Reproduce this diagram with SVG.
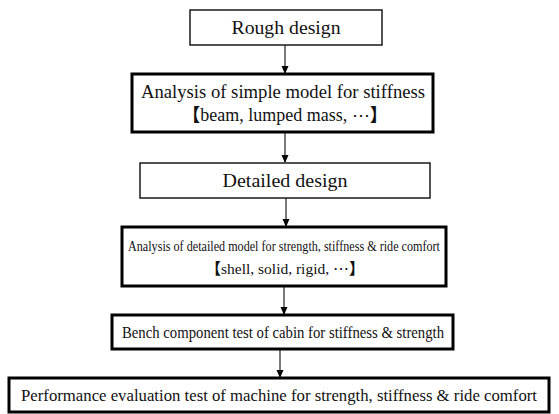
<svg xmlns="http://www.w3.org/2000/svg" width="559" height="414" viewBox="0 0 559 414">
<defs>
<marker id="arr" markerWidth="8" markerHeight="8" refX="7" refY="4" orient="auto" markerUnits="userSpaceOnUse">
<path d="M0,0.5 L8,4 L0,7.5 Z" fill="#000"/>
</marker>
<style>
.thin{fill:#fff;stroke:#1a1a1a;stroke-width:1.5}
.thick{fill:#fff;stroke:#000;stroke-width:3}
.t{fill:#111;text-anchor:middle}
.cjk{font-weight:bold}
.c{stroke:#222;stroke-width:1.2;fill:none;marker-end:url(#arr)}
</style>
</defs>
<rect width="559" height="414" fill="#fff"/>
<g id="connectors">
<line class="c" x1="285" y1="45" x2="285" y2="73"/>
<line class="c" x1="285" y1="132" x2="285" y2="162"/>
<line class="c" x1="286" y1="198" x2="286" y2="226"/>
<line class="c" x1="284" y1="286" x2="284" y2="314"/>
<line class="c" x1="280" y1="349" x2="280" y2="377"/>
</g>
<g id="n1">
<rect class="thin" x="190" y="10" width="192" height="35"/>
<text class="t" font-family="Liberation Serif" x="286" y="34" font-size="19" textLength="109" lengthAdjust="spacingAndGlyphs">Rough design</text>
</g>
<g id="n2">
<rect class="thick" x="132" y="74" width="301" height="58"/>
<text class="t" font-family="Liberation Serif" x="283" y="98" font-size="18.5" textLength="284" lengthAdjust="spacingAndGlyphs">Analysis of simple model for stiffness</text>
<text class="t" font-family="Liberation Serif" x="285" y="121" font-size="18"><tspan class="cjk" font-family="Noto Sans CJK JP">【</tspan>beam, lumped mass, <tspan font-family="DejaVu Serif">⋯</tspan><tspan class="cjk" font-family="Noto Sans CJK JP">】</tspan></text>
</g>
<g id="n3">
<rect class="thin" x="140" y="163" width="290" height="35"/>
<text class="t" font-family="Liberation Serif" x="285" y="187" font-size="19" textLength="125" lengthAdjust="spacingAndGlyphs">Detailed design</text>
</g>
<g id="n4">
<rect class="thick" x="122" y="227" width="324" height="59"/>
<text class="t" font-family="Liberation Serif" x="284" y="251" font-size="15.5" textLength="312" lengthAdjust="spacingAndGlyphs">Analysis of detailed model for strength, stiffness &amp; ride comfort</text>
<text class="t" font-family="Liberation Serif" x="285" y="274" font-size="15.5"><tspan class="cjk" font-family="Noto Sans CJK JP">【</tspan>shell, solid, rigid, <tspan font-family="DejaVu Serif">⋯</tspan><tspan class="cjk" font-family="Noto Sans CJK JP">】</tspan></text>
</g>
<g id="n5">
<rect class="thick" x="112" y="315" width="341" height="34"/>
<text class="t" font-family="Liberation Serif" x="283" y="338" font-size="17" textLength="322" lengthAdjust="spacingAndGlyphs">Bench component test of cabin for stiffness &amp; strength</text>
</g>
<g id="n6">
<rect class="thick" x="9" y="378" width="540" height="34"/>
<text class="t" font-family="Liberation Serif" x="279" y="401" font-size="17" textLength="516" lengthAdjust="spacingAndGlyphs">Performance evaluation test of machine for strength, stiffness &amp; ride comfort</text>
</g>
</svg>
